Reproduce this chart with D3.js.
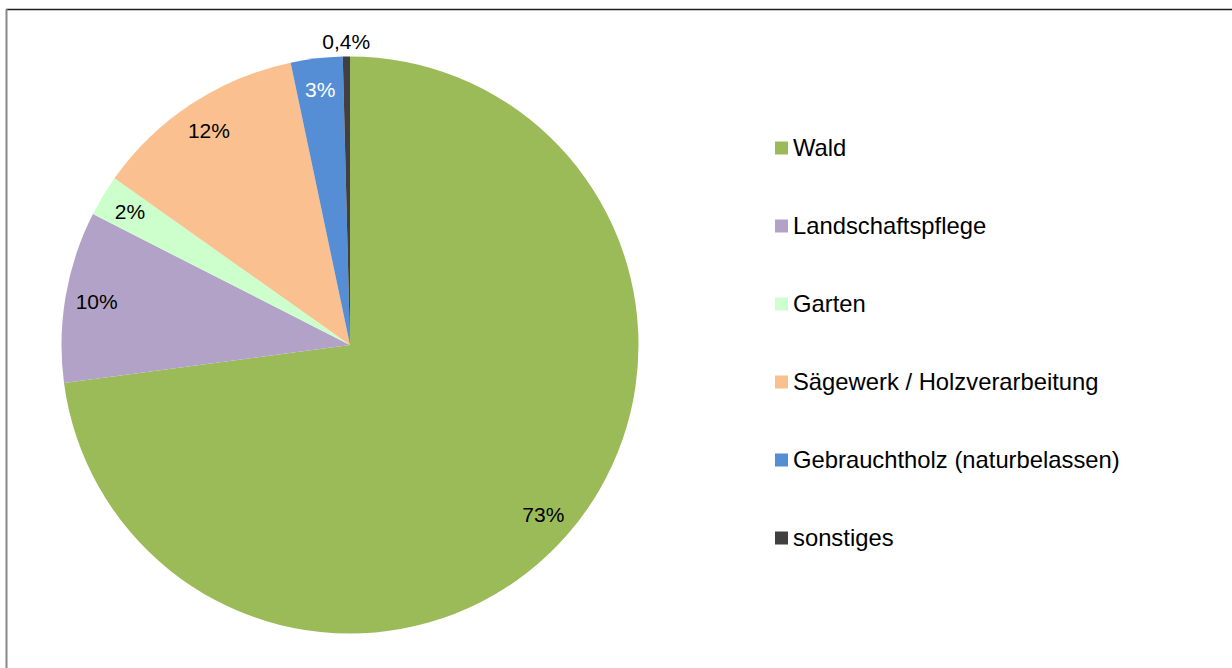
<!DOCTYPE html>
<meta charset="utf-8">
<style>
body { margin: 0; background: #fff; font-family: "Liberation Sans", Arial, sans-serif; }
.lbl { font-size: 21px; text-anchor: middle; }
.legend text { font-size: 23.8px; fill: #000; }
</style>
<body>
<script src="https://cdn.jsdelivr.net/npm/d3@7"></script>
<script>
// data
var categories = ["Wald", "Landschaftspflege", "Garten", "Sägewerk / Holzverarbeitung", "Gebrauchtholz (naturbelassen)", "sonstiges"];
var values = [72.9, 9.6, 2.3, 11.9, 2.9, 0.4];
var labels = ["73%", "10%", "2%", "12%", "3%", "0,4%"];
var colors = ["#9bbb59", "#b3a2c7", "#ccffcc", "#fac090", "#558ed5", "#404040"];

var W = 1232, H = 668;
var cx = 350, cy = 345, r = 288.5;

var svg = d3.select("body").append("svg")
    .attr("width", W)
    .attr("height", H);

// frame lines (top + left)
svg.append("line").attr("x1", 6).attr("x2", W).attr("y1", 9.5).attr("y2", 9.5)
    .attr("stroke", "#1e1e1e").attr("stroke-width", 1.5);
svg.append("line").attr("x1", 6.5).attr("x2", 6.5).attr("y1", 9).attr("y2", H)
    .attr("stroke", "#888").attr("stroke-width", 2);

var pie = d3.pie().sort(null).value(function(d) { return d; });
var arcs = pie(values);

var arc = d3.arc().innerRadius(0).outerRadius(r);
var labelArc = d3.arc().innerRadius(257).outerRadius(257);
var outerArc = d3.arc().innerRadius(303).outerRadius(303);

var g = svg.append("g").attr("transform", "translate(" + cx + "," + cy + ")");

g.selectAll("path")
    .data(arcs)
  .enter().append("path")
    .attr("d", arc)
    .attr("fill", function(d, i) { return colors[i]; });

// data labels, the tiny slice gets its label outside
g.selectAll(".lbl")
    .data(arcs)
  .enter().append("text")
    .attr("class", "lbl")
    .attr("transform", function(d, i) {
      var c = (i == 5) ? outerArc.centroid(d) : labelArc.centroid(d);
      return "translate(" + c + ")";
    })
    .attr("dy", "0.35em")
    .attr("fill", function(d, i) { return i == 4 ? "#fff" : "#000"; })
    .text(function(d, i) { return labels[i]; });

// legend
var ly = d3.scalePoint().domain(categories).range([148, 538]);

var leg = svg.append("g").attr("class", "legend")
    .selectAll("g")
    .data(categories)
  .enter().append("g")
    .attr("transform", function(d) { return "translate(775," + ly(d) + ")"; });

leg.append("rect")
    .attr("x", 0).attr("y", -6.5)
    .attr("width", 13).attr("height", 13)
    .attr("fill", function(d, i) { return colors[i]; });

leg.append("text")
    .attr("x", 18)
    .attr("dy", "0.35em")
    .text(function(d) { return d; });
</script>
</body>
